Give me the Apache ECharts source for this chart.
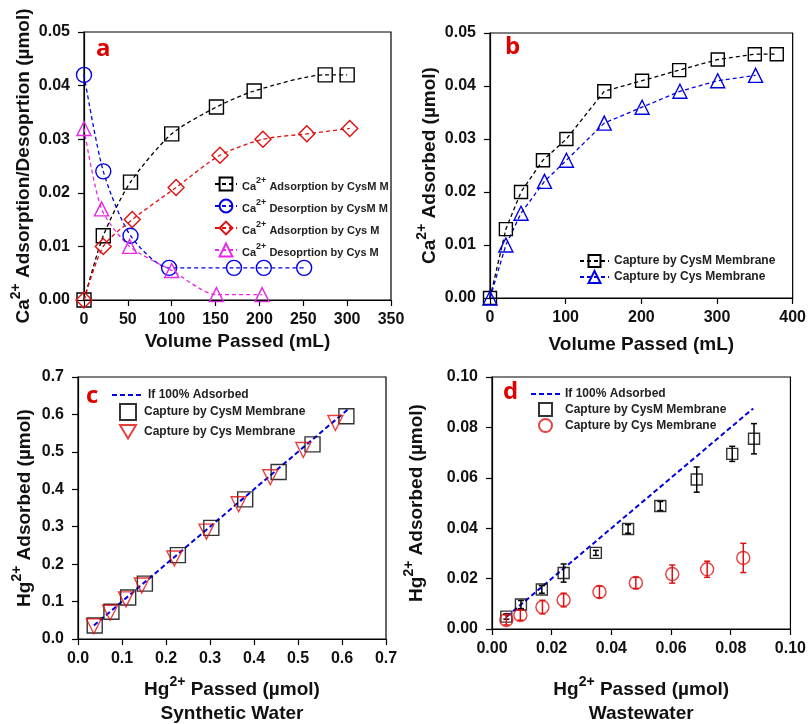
<!DOCTYPE html>
<html>
<head>
<meta charset="utf-8">
<script src="https://cdn.jsdelivr.net/npm/echarts@6/dist/echarts.min.js"></script>
<style>
  html, body { margin: 0; padding: 0; background: #fff; }
  #main { width: 809px; height: 724px; }
</style>
</head>
<body>
<div id="main"></div>
<script>
// ---- data ----
// panel a : Ca2+ adsorption / desorption vs volume
var aAdsCysMX = [0, 22, 53, 100, 151, 194, 275, 300];
var aAdsCysMY = [0, 0.012, 0.022, 0.031, 0.036, 0.039, 0.042, 0.042];
var aDesCysMX = [0, 22, 53, 97, 171, 205, 251];
var aDesCysMY = [0.042, 0.024, 0.012, 0.006, 0.006, 0.006, 0.006];
var aAdsCysX = [0, 22, 55, 105, 155, 204, 254, 303];
var aAdsCysY = [0, 0.010, 0.015, 0.021, 0.027, 0.030, 0.031, 0.032];
var aDesCysX = [0, 20, 52, 100, 151, 203];
var aDesCysY = [0.032, 0.017, 0.010, 0.0055, 0.001, 0.001];

// panel b : Ca2+ captured vs volume
var bCysMX = [0, 21, 41, 70, 101, 151, 201, 250, 301, 350, 379];
var bCysMY = [0, 0.013, 0.020, 0.026, 0.030, 0.039, 0.041, 0.043, 0.045, 0.046, 0.046];
var bCysX = [0, 21, 41, 72, 101, 151, 201, 251, 301, 351];
var bCysY = [0, 0.010, 0.016, 0.022, 0.026, 0.033, 0.036, 0.039, 0.041, 0.042];

// panel c : Hg2+ synthetic water
var cCysMX = [0.038, 0.076, 0.114, 0.152, 0.227, 0.303, 0.380, 0.456, 0.533, 0.610];
var cCysMY = [0.036, 0.073, 0.111, 0.148, 0.224, 0.297, 0.373, 0.446, 0.520, 0.595];
var cCysX = [0.036, 0.073, 0.109, 0.145, 0.219, 0.292, 0.365, 0.437, 0.512, 0.585];
var cCysY = [0.034, 0.070, 0.106, 0.143, 0.215, 0.287, 0.360, 0.432, 0.505, 0.577];
var cIdeal = [0.036, 0.614];

// panel d : Hg2+ wastewater (with error bars)
var dCysMX = [0.0048, 0.0097, 0.0167, 0.024, 0.0348, 0.0456, 0.0564, 0.0686, 0.0805, 0.0878];
var dCysMY = [0.0049, 0.0097, 0.0157, 0.0222, 0.0302, 0.0397, 0.0488, 0.0593, 0.0695, 0.0755];
var dCysMErr = [0.001, 0.0016, 0.0015, 0.0036, 0.001, 0.0017, 0.0018, 0.005, 0.003, 0.006];
var dCysX = [0.0048, 0.0095, 0.0169, 0.024, 0.036, 0.0482, 0.0604, 0.0721, 0.0842];
var dCysY = [0.0036, 0.0055, 0.0087, 0.0115, 0.0147, 0.0183, 0.0218, 0.0237, 0.0282];
var dCysErr = [0.002, 0.002, 0.0027, 0.0027, 0.0023, 0.0022, 0.0036, 0.0032, 0.0058];
var dIdeal = [0.005, 0.0875];

var FONT = "'Liberation Sans', Arial, sans-serif";
var BLACK = '#000', BLUE = '#0000e6', RED = '#e01010', MAGENTA = '#e628e6';

var legendNames = {
    a1: ' Adsorption by CysM M', a2: ' Desorption by CysM M', a3: ' Adsorption by Cys M', a4: ' Desoprtion by Cys M',
    b1: 'Capture by CysM Membrane', b2: 'Capture by Cys Membrane',
    c0: 'If 100% Adsorbed', c1: 'Capture by CysM Membrane', c2: 'Capture by Cys Membrane',
    d0: 'If 100% Adsorbed', d1: 'Capture by CysM Membrane', d2: 'Capture by Cys Membrane'
};

function pairs(xs, ys) {
    return xs.map(function (x, i) { return [x, ys[i]]; });
}

// rich text so the "2+" sits as superscript
function richName(size) {
    return {
        fontFamily: FONT, fontSize: size, fontWeight: 'bold', color: '#111',
        rich: {
            n: { fontFamily: FONT, fontSize: size, fontWeight: 'bold', color: '#111', lineHeight: size + 5, verticalAlign: 'bottom' },
            s: { fontFamily: FONT, fontSize: Math.round(size * 0.72), fontWeight: 'bold', color: '#111', lineHeight: 12, verticalAlign: 'top' }
        }
    };
}

function axis(grid, min, max, interval, dec, name, gap, rotate) {
    var ax = {
        gridIndex: grid, type: 'value', min: min, max: max, interval: interval,
        name: name, nameLocation: 'middle', nameGap: gap, nameTextStyle: richName(19),
        axisLine: { show: true, onZero: false, lineStyle: { color: BLACK, width: 1.2 } },
        axisTick: { show: true, inside: false, length: 6, lineStyle: { color: BLACK, width: 1.2 } },
        axisLabel: {
            fontFamily: FONT, fontSize: 16, fontWeight: 'bold', color: '#111', margin: rotate ? 14 : 12,
            formatter: function (v) { return dec === 0 ? String(Math.round(v)) : v.toFixed(dec); }
        },
        splitLine: { show: false }
    };
    if (rotate) ax.nameRotate = 90;
    return ax;
}

var hollow = function (c) {
    return { color: 'rgba(0,0,0,0)', borderColor: c, borderWidth: 1.4 };
};

function lineSeries(name, grid, xs, ys, color, symbol, size, smooth, rot) {
    return {
        name: name, type: 'line', xAxisIndex: grid, yAxisIndex: grid,
        data: pairs(xs, ys), smooth: smooth,
        symbol: symbol, symbolSize: size, symbolRotate: rot || 0, showAllSymbol: true,
        lineStyle: { color: color, width: 1.3, type: [4, 3] },
        itemStyle: hollow(color), z: 3
    };
}

function scatterSeries(name, grid, xs, ys, color, symbol, size, rot) {
    return {
        name: name, type: 'scatter', xAxisIndex: grid, yAxisIndex: grid,
        data: pairs(xs, ys), symbol: symbol, symbolSize: size, symbolRotate: rot || 0,
        symbolKeepAspect: true,
        itemStyle: hollow(color), z: 3
    };
}

function idealLine(name, grid, ends) {
    return {
        name: name, type: 'line', xAxisIndex: grid, yAxisIndex: grid,
        data: pairs(ends, ends), symbol: 'none',
        lineStyle: { color: BLUE, width: 2, type: [5, 3] },
        itemStyle: { color: BLUE }, z: 2
    };
}

function errorBars(grid, xs, ys, errs, color) {
    var data = xs.map(function (x, i) { return [x, ys[i] - errs[i], ys[i] + errs[i]]; });
    return {
        type: 'custom', xAxisIndex: grid, yAxisIndex: grid, silent: true, z: 4,
        encode: { x: 0, y: [1, 2] },
        data: data,
        renderItem: function (params, api) {
            var lo = api.coord([api.value(0), api.value(1)]);
            var hi = api.coord([api.value(0), api.value(2)]);
            var w = 3;
            var st = { stroke: color, lineWidth: 1.5 };
            return {
                type: 'group', children: [
                    { type: 'line', shape: { x1: lo[0], y1: lo[1], x2: hi[0], y2: hi[1] }, style: st },
                    { type: 'line', shape: { x1: lo[0] - w, y1: lo[1], x2: lo[0] + w, y2: lo[1] }, style: st },
                    { type: 'line', shape: { x1: hi[0] - w, y1: hi[1], x2: hi[0] + w, y2: hi[1] }, style: st }
                ]
            };
        }
    };
}

var supLegendText = {
    fontFamily: FONT, fontSize: 11, fontWeight: 'bold', color: '#222',
    rich: {
        n: { fontFamily: FONT, fontSize: 11, fontWeight: 'bold', color: '#222', lineHeight: 16, verticalAlign: 'bottom' },
        s: { fontFamily: FONT, fontSize: 9, fontWeight: 'bold', color: '#222', lineHeight: 9, verticalAlign: 'top' }
    }
};

function plainText(padLeft) {
    return { fontFamily: FONT, fontSize: 12, fontWeight: 'bold', color: '#222', padding: [0, 0, 0, padLeft || 0] };
}

function nameOf(n) { return legendNames[n]; }

function panelLetter(t, x, y) {
    return {
        type: 'text', left: x, top: y,
        style: { text: t, fill: '#e00000', font: "bold 24px 'Open Sans', sans-serif" }
    };
}

var chart = echarts.init(document.getElementById('main'));

var option = {
    backgroundColor: '#fff',
    animation: false,
    grid: [
        { left: 84, top: 32, width: 307, height: 268 },
        { left: 490, top: 33, width: 303, height: 265 },
        { left: 78, top: 377, width: 308, height: 263 },
        { left: 492, top: 377, width: 299, height: 261 }
    ].map(function (g) {
        g.show = true; g.borderColor = BLACK; g.borderWidth = 1.2; g.containLabel = false;
        return g;
    }),
    xAxis: [
        axis(0, 0, 350, 50, 0, 'Volume Passed (mL)', 32),
        axis(1, 0, 400, 100, 0, 'Volume Passed (mL)', 37),
        axis(2, 0, 0.7, 0.1, 1, '{n|Hg}{s|2+}{n| Passed (µmol)}\n{n|Synthetic Water}', 36),
        axis(3, 0, 0.1, 0.02, 2, '{n|Hg}{s|2+}{n| Passed (µmol)}\n{n|Wastewater}', 46)
    ],
    yAxis: [
        axis(0, 0, 0.05, 0.01, 2, '{n|Ca}{s|2+}{n| Adsorption/Desoprtion (µmol)}', 51, true),
        axis(1, 0, 0.05, 0.01, 2, '{n|Ca}{s|2+}{n| Adsorbed (µmol)}', 51, true),
        axis(2, 0, 0.7, 0.1, 1, '{n|Hg}{s|2+}{n| Adsorbed (µmol)}', 44, true),
        axis(3, 0, 0.1, 0.02, 2, '{n|Hg}{s|2+}{n| Adsorbed (µmol)}', 66, true)
    ],
    legend: [
        {
            orient: 'vertical', left: 209, top: 171, itemWidth: 22, itemHeight: 16, itemGap: 6,
            data: ['a1', 'a2', 'a3', 'a4'],
            textStyle: supLegendText,
            formatter: function (n) { return '{n|Ca}{s|2+}{n|' + legendNames[n] + '}'; }
        },
        {
            orient: 'vertical', left: 574, top: 249, itemWidth: 29, itemHeight: 15, itemGap: 2,
            data: ['b1', 'b2'],
            textStyle: plainText(), formatter: nameOf
        },
        // panel c: dashed line entry, then the marker-only entries
        {
            left: 106, top: 384, itemWidth: 31, itemHeight: 15,
            data: [{ name: 'c0', itemStyle: { opacity: 0 } }],
            textStyle: plainText(), formatter: nameOf
        },
        {
            orient: 'vertical', left: 114, top: 398, itemWidth: 16, itemHeight: 16, itemGap: 3,
            data: ['c1', { name: 'c2', icon: 'path://M0,0 L20,0 L10,17 Z' }],
            textStyle: plainText(3), formatter: nameOf
        },
        // panel d
        {
            left: 525, top: 383, itemWidth: 29, itemHeight: 13,
            data: [{ name: 'd0', itemStyle: { opacity: 0 } }],
            textStyle: plainText(), formatter: nameOf
        },
        {
            orient: 'vertical', left: 533, top: 397, itemWidth: 13, itemHeight: 13, itemGap: 1,
            data: ['d1', 'd2'],
            textStyle: plainText(8), formatter: nameOf
        }
    ],
    graphic: [
        panelLetter('a', 96, 37),
        panelLetter('b', 505, 35),
        panelLetter('c', 86, 384),
        panelLetter('d', 503, 380)
    ],
    series: [
        lineSeries('a1', 0, aAdsCysMX, aAdsCysMY, BLACK, 'rect', 14, 0.25),
        lineSeries('a2', 0, aDesCysMX, aDesCysMY, BLUE, 'circle', 15, 0.25),
        lineSeries('a3', 0, aAdsCysX, aAdsCysY, RED, 'diamond', 16, 0.25),
        lineSeries('a4', 0, aDesCysX, aDesCysY, MAGENTA, 'triangle', 14, 0.25),

        lineSeries('b1', 1, bCysMX, bCysMY, BLACK, 'rect', 13, false),
        lineSeries('b2', 1, bCysX, bCysY, BLUE, 'triangle', 14, false),

        idealLine('c0', 2, cIdeal),
        scatterSeries('c1', 2, cCysMX, cCysMY, BLACK, 'rect', 15),
        scatterSeries('c2', 2, cCysX, cCysY, RED, 'triangle', 15, 180),

        idealLine('d0', 3, dIdeal),
        scatterSeries('d1', 3, dCysMX, dCysMY, BLACK, 'rect', 11),
        scatterSeries('d2', 3, dCysX, dCysY, RED, 'circle', 13),
        errorBars(3, dCysMX, dCysMY, dCysMErr, BLACK),
        errorBars(3, dCysX, dCysY, dCysErr, RED)
    ]
};

chart.setOption(option);
</script>
</body>
</html>
